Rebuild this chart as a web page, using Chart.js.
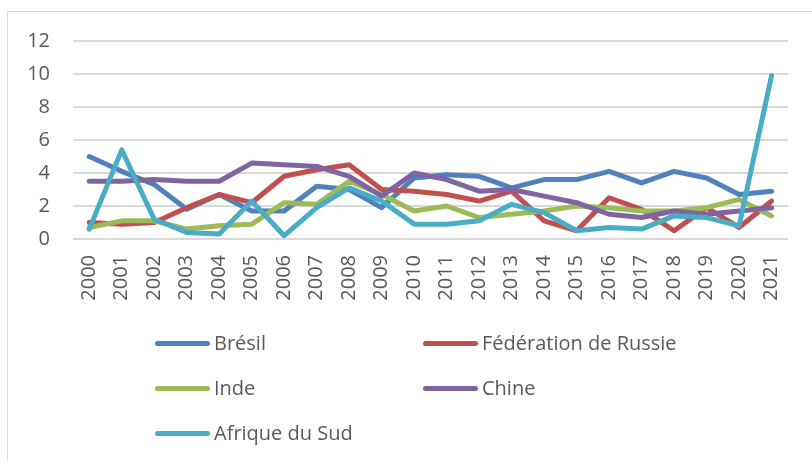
<!DOCTYPE html>
<html>
<head>
<meta charset="utf-8">
<script src="https://cdn.jsdelivr.net/npm/chart.js@4.4.1/dist/chart.umd.min.js"></script>
<style>
    html, body { margin: 0; padding: 0; background: #fff; overflow: hidden; }
    #wrap { position: relative; width: 812px; height: 461px; }
    #frame { position: absolute; left: 7px; top: 11px; width: 900px; height: 500px; border: 1px solid #d9d9d9; }
    #c { position: absolute; left: 0; top: 0; }
    .leg { position: absolute; height: 26px; line-height: 26px; font-family: "Open Sans", sans-serif; font-size: 20px; color: #595959; white-space: nowrap; }
    .leg span.ln { display: inline-block; width: 55px; height: 5px; border-radius: 3px; vertical-align: middle; margin-right: 4px; position: relative; top: -1px; }
</style>
</head>
<body>
<div id="wrap">
    <div id="frame"></div>
    <canvas id="c" width="812" height="461"></canvas>
    <div id="legend"></div>
</div>

<script type="text/javascript">
    var years = ["2000","2001","2002","2003","2004","2005","2006","2007","2008","2009","2010",
                 "2011","2012","2013","2014","2015","2016","2017","2018","2019","2020","2021"];

    var bresil   = [5.0, 4.1, 3.3, 1.8, 2.7, 1.7, 1.7, 3.2, 3.0, 1.9, 3.7, 3.9, 3.8, 3.1, 3.6, 3.6, 4.1, 3.4, 4.1, 3.7, 2.7, 2.9];
    var russie   = [1.0, 0.9, 1.0, 1.9, 2.7, 2.2, 3.8, 4.2, 4.5, 3.0, 2.9, 2.7, 2.3, 2.9, 1.1, 0.5, 2.5, 1.8, 0.5, 1.9, 0.7, 2.3];
    var inde     = [0.7, 1.1, 1.1, 0.6, 0.8, 0.9, 2.2, 2.1, 3.5, 2.7, 1.7, 2.0, 1.3, 1.5, 1.7, 2.0, 1.9, 1.7, 1.7, 1.9, 2.4, 1.4];
    var chine    = [3.5, 3.5, 3.6, 3.5, 3.5, 4.6, 4.5, 4.4, 3.8, 2.6, 4.0, 3.6, 2.9, 3.0, 2.6, 2.2, 1.5, 1.3, 1.7, 1.5, 1.7, 1.9];
    var afrique  = [0.6, 5.4, 1.2, 0.4, 0.3, 2.3, 0.2, 1.9, 3.1, 2.3, 0.9, 0.9, 1.1, 2.1, 1.6, 0.5, 0.7, 0.6, 1.4, 1.3, 0.8, 9.9];

    var yTicks = [0, 2, 4, 6, 8, 10, 12];

    var seriesNames  = ["Brésil", "Fédération de Russie", "Inde", "Chine", "Afrique du Sud"];
    var seriesColors = ["#4F81BD", "#C0504D", "#9BBB59", "#8064A2", "#4BACC6"];
    var seriesData   = [bresil, russie, inde, chine, afrique];

    var txtColor = "#595959";
    var font = { family: "'Open Sans', sans-serif", size: 20 };

    var datasets = [];
    for (var i = 0; i < seriesNames.length; i++) {
        datasets.push({
            label: seriesNames[i],
            data: seriesData[i],
            borderColor: seriesColors[i],
            backgroundColor: seriesColors[i],
            borderWidth: 5,
            borderCapStyle: "round",
            borderJoinStyle: "round",
            pointRadius: 0,
            tension: 0,
            fill: false,
            order: seriesNames.length - i   // later series on top, like the original
        });
    }

    new Chart(document.getElementById("c").getContext("2d"), {
        type: "line",
        data: { labels: years, datasets: datasets },
        options: {
            responsive: false,
            animation: false,
            events: [],
            layout: { padding: { left: 0, top: 41, right: 19, bottom: 142 } },
            plugins: { legend: { display: false }, tooltip: { enabled: false } },
            scales: {
                x: {
                    offset: true,
                    grid: { display: false, drawTicks: false },
                    border: { display: false },
                    ticks: { color: txtColor, font: font, minRotation: 90, maxRotation: 90, padding: 16, autoSkip: false },
                    afterFit: function(s){ s.height = 80; }
                },
                y: {
                    min: 0, max: 12,
                    afterBuildTicks: function(s){ s.ticks = yTicks.map(function(v){ return { value: v }; }); },
                    grid: { color: "#d9d9d9", lineWidth: 2, drawTicks: false },
                    border: { display: false },
                    ticks: { color: txtColor, font: font, padding: 23 },
                    afterFit: function(s){ s.width = 73; }
                }
            }
        }
    });

    // legend in two columns, as in the original
    var legPos = [[155, 330], [423, 330], [155, 375], [423, 375], [155, 420]];
    var legend = document.getElementById("legend");
    for (var j = 0; j < seriesNames.length; j++) {
        var d = document.createElement("div");
        d.className = "leg";
        d.style.left = legPos[j][0] + "px";
        d.style.top = legPos[j][1] + "px";
        d.innerHTML = '<span class="ln" style="background:' + seriesColors[j] + '"></span>' + seriesNames[j];
        legend.appendChild(d);
    }
</script>
</body>
</html>
